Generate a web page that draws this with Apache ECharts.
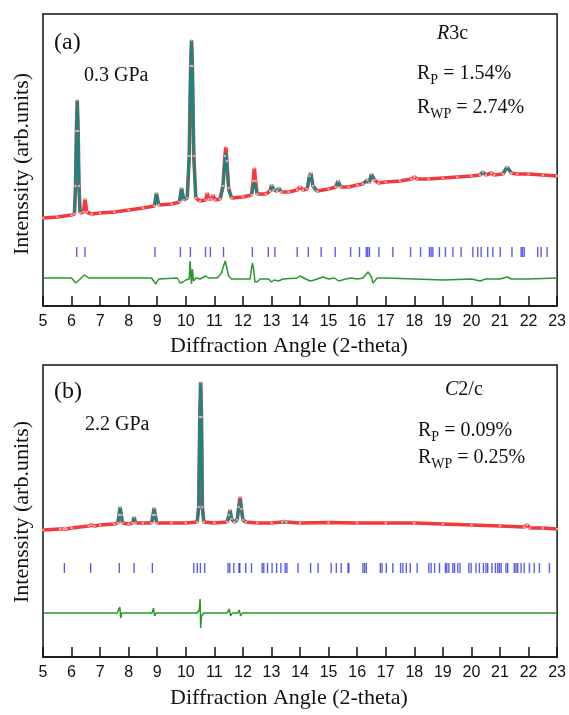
<!DOCTYPE html>
<html>
<head>
<meta charset="utf-8">
<script src="https://cdn.jsdelivr.net/npm/echarts@6/dist/echarts.min.js"></script>
<style>
html, body { margin: 0; padding: 0; background: #fff; }
#chart { width: 569px; height: 715px; }
</style>
</head>
<body>
<div id="chart"></div>
<script>
// ---- panel (a), 0.3 GPa, R3c ----
var obsA = [
    [5.0, 88], [5.5, 89], [6.0, 91], [6.1, 92], [6.14, 120], [6.17, 175], [6.2, 206], [6.23, 175], [6.26, 120], [6.3, 93],
    [6.42, 94], [6.47, 107], [6.53, 94], [6.7, 92], [7.0, 93], [7.5, 94], [8.0, 96], [8.5, 98], [8.9, 100], [8.97, 113],
    [9.05, 101], [9.5, 102], [9.78, 104], [9.85, 118], [9.93, 106], [10.05, 108], [10.12, 150], [10.17, 240], [10.2, 266],
    [10.23, 240], [10.28, 150], [10.35, 108], [10.5, 105], [10.7, 106], [10.75, 113], [10.8, 107], [10.9, 107], [10.95, 111],
    [11.02, 106], [11.2, 107], [11.3, 120], [11.37, 150], [11.4, 159], [11.44, 145], [11.5, 118], [11.6, 108], [12.0, 109],
    [12.3, 111], [12.36, 125], [12.4, 138], [12.44, 125], [12.5, 112], [12.8, 112], [12.95, 115], [13.0, 121], [13.08, 116],
    [13.2, 115], [13.25, 118], [13.35, 114], [13.6, 114], [13.9, 116], [14.0, 119], [14.1, 116], [14.25, 117], [14.33, 130],
    [14.38, 133], [14.45, 120], [14.6, 115], [15.0, 117], [15.25, 119], [15.33, 125], [15.42, 119], [15.7, 119], [16.0, 121],
    [16.2, 122], [16.35, 126], [16.42, 123], [16.5, 132], [16.6, 126], [16.75, 123], [17.0, 124], [17.5, 125], [17.9, 127],
    [18.0, 129], [18.1, 127], [18.5, 127], [19.0, 128], [19.5, 129], [20.0, 130], [20.3, 131], [20.4, 134], [20.5, 131],
    [20.7, 133], [20.8, 131], [21.1, 132], [21.25, 139], [21.4, 133], [21.6, 132], [22.0, 132], [22.5, 131], [23.0, 130]
];
// calculated profile, only where it stands out from the observed points
var calcA = [
    [[6.1, 92], [6.14, 120], [6.17, 175], [6.2, 206], [6.23, 175], [6.26, 120], [6.3, 93]],
    [[8.9, 100], [8.97, 113], [9.05, 101]],
    [[9.78, 104], [9.85, 118], [9.93, 106], [10.05, 108], [10.12, 150], [10.17, 240], [10.2, 266], [10.23, 240], [10.28, 150], [10.35, 108]],
    [[11.2, 107], [11.3, 118], [11.37, 145], [11.4, 153], [11.44, 140], [11.5, 116], [11.6, 108]],
    [[12.3, 111], [12.36, 119], [12.4, 123], [12.44, 119], [12.5, 112]],
    [[12.95, 115], [13.0, 121], [13.08, 116], [13.2, 115], [13.25, 118], [13.35, 114]],
    [[14.25, 117], [14.33, 130], [14.38, 133], [14.45, 120], [14.6, 115]],
    [[15.25, 119], [15.33, 125], [15.42, 119]],
    [[16.2, 122], [16.35, 126], [16.42, 123], [16.5, 132], [16.6, 126]],
    [[20.3, 131], [20.4, 134], [20.5, 131]],
    [[21.1, 132], [21.25, 139], [21.4, 133]]
];
var diffA = [
    [5.0, 28], [6.0, 28], [6.15, 23], [6.22, 22], [6.3, 27], [6.45, 31], [6.6, 28], [8.8, 28], [8.95, 22], [9.05, 27],
    [9.7, 28], [9.8, 23], [9.9, 24], [10.0, 26], [10.12, 27], [10.15, 45], [10.18, 30], [10.2, 22], [10.23, 37], [10.27, 25],
    [10.35, 28], [10.5, 27], [10.7, 30], [10.75, 32], [10.8, 28], [11.1, 28], [11.25, 33], [11.3, 38], [11.38, 45], [11.42, 44],
    [11.5, 30], [11.6, 27], [12.25, 27], [12.33, 43], [12.38, 36], [12.42, 24], [12.5, 24], [12.6, 27], [12.9, 27], [13.0, 24],
    [13.1, 26], [13.25, 25], [13.4, 27], [13.9, 28], [14.0, 30], [14.2, 27], [14.35, 25], [14.5, 26], [14.8, 29], [15.0, 27],
    [15.2, 28], [15.35, 25], [15.6, 27], [15.8, 28], [16.0, 27], [16.2, 28], [16.38, 34], [16.5, 29], [16.55, 23], [16.7, 28],
    [17.0, 28], [18.0, 27], [19.0, 26], [20.0, 27], [20.3, 25], [20.5, 27], [21.0, 27], [21.25, 29], [21.4, 27], [22.0, 27],
    [23.0, 28]
];
var braggA = [
    6.18, 6.47, 8.92, 9.81, 10.16, 10.69, 10.86, 11.32, 12.33, 12.89, 13.12, 13.90, 14.29, 14.74, 15.23, 15.77,
    16.08, 16.32, 16.37, 16.43, 16.76, 17.25, 17.87, 18.22, 18.53, 18.59, 18.65, 18.88, 19.09, 19.35, 19.64,
    20.05, 20.22, 20.34, 20.57, 20.75, 21.01, 21.42, 21.74, 21.79, 21.85, 22.32, 22.44, 22.65
];

// ---- panel (b), 2.2 GPa, C2/c ----
var obsB = [
    [5.0, 127], [5.6, 128], [5.72, 128], [5.77, 130], [5.82, 128], [6.0, 129], [6.6, 131], [6.7, 132], [6.8, 131], [7.0, 132],
    [7.5, 133], [7.62, 134], [7.66, 142], [7.7, 150], [7.74, 142], [7.78, 134], [8.0, 133], [8.14, 134], [8.19, 140], [8.24, 134],
    [8.5, 134], [8.8, 134], [8.85, 142], [8.89, 149], [8.93, 142], [8.98, 134], [9.5, 134], [10.0, 134], [10.4, 135], [10.45, 150],
    [10.49, 240], [10.52, 275], [10.55, 240], [10.58, 150], [10.63, 135], [11.0, 134], [11.45, 135], [11.51, 142], [11.55, 147],
    [11.6, 138], [11.7, 135], [11.8, 137], [11.85, 150], [11.9, 160], [11.95, 148], [12.0, 137], [12.1, 135], [12.5, 134],
    [13.0, 134], [13.38, 135], [13.45, 137], [13.52, 135], [14.0, 134], [15.0, 134.5], [16.0, 134], [17.0, 134], [18.0, 134],
    [19.0, 133], [20.0, 132], [21.0, 131], [21.85, 130], [21.95, 132], [22.05, 129], [22.5, 129], [23.0, 128]
];
var calcB = [
    [[7.62, 134], [7.66, 142], [7.7, 150], [7.74, 142], [7.78, 134]],
    [[8.14, 134], [8.19, 139], [8.24, 134]],
    [[8.8, 134], [8.85, 142], [8.89, 149], [8.93, 142], [8.98, 134]],
    [[10.4, 135], [10.45, 150], [10.49, 240], [10.52, 275], [10.55, 240], [10.58, 150], [10.63, 135]],
    [[11.45, 135], [11.51, 142], [11.55, 147], [11.6, 138], [11.7, 135], [11.8, 137], [11.85, 148], [11.9, 157], [11.95, 146], [12.0, 137], [12.1, 135]],
    [[13.38, 135], [13.45, 137], [13.52, 135]]
];
var diffB = [
    [5.0, 44], [7.6, 44], [7.66, 45], [7.69, 50], [7.72, 39], [7.76, 44], [8.15, 44], [8.2, 45.5], [8.25, 44], [8.82, 44],
    [8.87, 49], [8.91, 41], [8.96, 44], [10.4, 44], [10.47, 47], [10.5, 58], [10.52, 29], [10.55, 41], [10.62, 44], [11.45, 44],
    [11.52, 48], [11.57, 41], [11.63, 44], [11.82, 44], [11.87, 47], [11.92, 41], [11.98, 44], [13.4, 44], [13.45, 46], [13.5, 44],
    [21.9, 44], [21.95, 46], [22.0, 44], [23.0, 44]
];
var braggB = [
    5.75, 6.67, 7.67, 8.19, 8.83, 10.28, 10.40, 10.51, 10.66, 11.48, 11.54, 11.68, 11.86, 11.89, 12.10, 12.30,
    12.67, 12.73, 12.86, 13.02, 13.18, 13.33, 13.48, 13.54, 13.93, 14.37, 14.63, 15.09, 15.27, 15.44, 15.68, 15.71,
    16.20, 16.26, 16.32, 16.81, 16.87, 17.02, 17.25, 17.52, 17.60, 17.72, 17.86, 18.10, 18.51, 18.59, 18.71, 18.88,
    19.09, 19.14, 19.21, 19.35, 19.41, 19.52, 19.60, 19.91, 19.99, 20.16, 20.28, 20.42, 20.51, 20.57, 20.72, 20.84,
    20.92, 20.98, 21.04, 21.21, 21.27, 21.50, 21.56, 21.62, 21.74, 21.85, 22.03, 22.20, 22.38, 22.73
];

var braggLevel = [54, 89];
var xTicks = [5, 23, 1];

var serif = 'Liberation Serif, Times New Roman, serif';
var sans = 'Liberation Sans, Arial, sans-serif';

var chart = echarts.init(document.getElementById('chart'));

// segments joined with an empty point so the line breaks between peaks
function joinSegments(segs) {
    var out = [];
    segs.forEach(function (s, i) {
        if (i > 0) out.push([s[0][0], '-']);
        out = out.concat(s);
    });
    return out;
}

function panelSeries(idx, obs, calc, diff, bragg, level) {
    return [
        {
            type: 'line', xAxisIndex: idx, yAxisIndex: idx, data: obs, symbol: 'none',
            lineStyle: { color: '#f2393b', width: 3.6 }, z: 2
        },
        {
            type: 'line', xAxisIndex: idx, yAxisIndex: idx, data: joinSegments(calc), symbol: 'none',
            connectNulls: false, lineStyle: { color: '#17877f', width: 2.8 }, z: 3
        },
        {
            type: 'scatter', xAxisIndex: idx, yAxisIndex: idx, data: obs, symbol: 'circle', symbolSize: 2.6,
            itemStyle: { color: '#f9bcbc' }, z: 4
        },
        {
            type: 'line', xAxisIndex: idx, yAxisIndex: idx, data: diff, symbol: 'none',
            lineStyle: { color: '#2b962b', width: 1.5 }, z: 3
        },
        {
            type: 'scatter', xAxisIndex: idx, yAxisIndex: idx,
            data: bragg.map(function (t) { return [t, level]; }),
            symbol: 'rect', symbolSize: [1.4, 10], itemStyle: { color: '#3434e6' }, z: 3
        }
    ];
}

function xAxisFor(idx) {
    return {
        type: 'value', gridIndex: idx, min: xTicks[0], max: xTicks[1], interval: xTicks[2],
        axisLine: { lineStyle: { color: '#111', width: 1.5 } },
        axisTick: { inside: true, length: 10, lineStyle: { color: '#111', width: 1.5 } },
        axisLabel: { fontFamily: sans, fontSize: 16, color: '#111', margin: 8 },
        splitLine: { show: false }
    };
}

function yAxisFor(idx) {
    return { type: 'value', gridIndex: idx, min: 0, max: 292, show: false };
}

function label(x, y, text, size, extra) {
    var st = {
        text: text, fontFamily: serif, fontSize: size, fill: '#111',
        align: 'left', textAlign: 'left', verticalAlign: 'middle', textVerticalAlign: 'middle'
    };
    if (extra) Object.keys(extra).forEach(function (k) { st[k] = extra[k]; });
    return { type: 'text', x: x, y: y, style: st, z: 10 };
}

var rRich = {
    m: { fontFamily: serif, fontSize: 20, lineHeight: 24, color: '#111' },
    s: { fontFamily: serif, fontSize: 14, lineHeight: 14, padding: [13, 0, 0, 0], color: '#111' },
    i: { fontFamily: serif, fontSize: 20, fontStyle: 'italic', color: '#111' }
};

var option = {
    animation: false,
    backgroundColor: '#fff',
    grid: [
        { left: 43, top: 14, width: 515, height: 292, show: true, borderColor: '#111', borderWidth: 1.5 },
        { left: 43, top: 365, width: 515, height: 292, show: true, borderColor: '#111', borderWidth: 1.5 }
    ],
    xAxis: [xAxisFor(0), xAxisFor(1)],
    yAxis: [yAxisFor(0), yAxisFor(1)],
    series: panelSeries(0, obsA, calcA, diffA, braggA, braggLevel[0])
        .concat(panelSeries(1, obsB, calcB, diffB, braggB, braggLevel[1])),
    graphic: [
        label(54, 43, '(a)', 24),
        label(84, 76, '0.3 GPa', 20),
        label(437, 34, '{i|R}3c', 20, { rich: rRich }),
        label(417, 74, '{m|R}{s|P}{m| = 1.54%}', 20, { rich: rRich }),
        label(417, 108, '{m|R}{s|WP}{m| = 2.74%}', 20, { rich: rRich }),
        label(54, 392, '(b)', 24),
        label(85, 425, '2.2 GPa', 20),
        label(445, 390, '{i|C}2/c', 20, { rich: rRich }),
        label(418, 431, '{m|R}{s|P}{m| = 0.09%}', 20, { rich: rRich }),
        label(418, 458, '{m|R}{s|WP}{m| = 0.25%}', 20, { rich: rRich }),
        label(289, 346, 'Diffraction Angle (2-theta)', 22, { align: 'center', textAlign: 'center' }),
        label(289, 698, 'Diffraction Angle (2-theta)', 22, { align: 'center', textAlign: 'center' }),
        {
            type: 'text', x: 22, y: 164, rotation: Math.PI / 2, z: 10,
            style: {
                text: 'Intenssity (arb.units)', fontFamily: serif, fontSize: 22, fill: '#111',
                align: 'center', textAlign: 'center', verticalAlign: 'middle', textVerticalAlign: 'middle'
            }
        },
        {
            type: 'text', x: 22, y: 512, rotation: Math.PI / 2, z: 10,
            style: {
                text: 'Intenssity (arb.units)', fontFamily: serif, fontSize: 22, fill: '#111',
                align: 'center', textAlign: 'center', verticalAlign: 'middle', textVerticalAlign: 'middle'
            }
        }
    ]
};

chart.setOption(option);
window.addEventListener('resize', chart.resize);
</script>
</body>
</html>
